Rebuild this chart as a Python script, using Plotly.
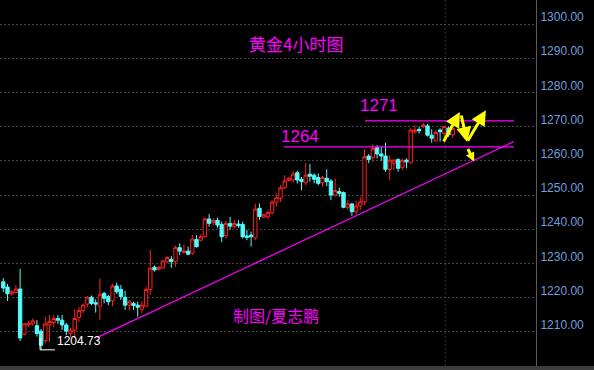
import plotly.graph_objects as go

# ---- candle data (gold, 4-hour bars) ----
opens = [1224.6,1223.1,1221.1,1221.5,1222.5,1209.3,1212.0,1212.3,1211.8,1210.2,
         1207.4,1212.0,1212.7,1213.9,1213.4,1212.0,1209.5,1210.5,1214.2,1216.2,
         1218.1,1220.1,1218.5,1217.5,1221.2,1220.3,1219.1,1223.4,1222.4,1220.1,
         1217.8,1218.3,1217.8,1216.6,1217.5,1222.4,1228.9,1228.3,1228.7,1230.5,
         1231.2,1230.5,1234.6,1233.2,1233.6,1233.0,1237.0,1236.8,1237.8,1243.0,
         1242.0,1242.6,1241.4,1238.1,1241.7,1240.7,1241.5,1241.4,1238.0,1238.3,
         1237.5,1246.1,1243.5,1243.6,1244.9,1247.9,1249.0,1252.2,1254.2,1254.4,
         1256.5,1254.6,1253.6,1256.1,1255.8,1255.1,1253.6,1254.9,1254.1,1250.0,
         1251.0,1250.7,1246.4,1247.4,1245.1,1246.8,1248.0,1261.4,1261.0,1263.9,
         1262.0,1261.4,1257.5,1259.3,1260.4,1258.1,1260.2,1259.4,1268.5,1269.2,
         1270.0,1270.2,1267.5,1265.8,1269.0,1268.0,1269.5,1267.6]
highs = [1225.7,1224.0,1222.2,1223.7,1228.4,1212.5,1213.2,1213.9,1213.4,1210.8,
         1214.4,1214.9,1214.9,1214.9,1214.9,1212.6,1211.2,1216.6,1217.3,1218.3,
         1220.5,1220.6,1219.5,1225.6,1221.7,1220.8,1224.0,1224.4,1223.7,1222.0,
         1219.3,1218.8,1218.8,1218.9,1223.2,1234.0,1229.4,1229.2,1231.0,1232.2,
         1232.2,1235.2,1235.9,1235.6,1234.9,1238.3,1238.3,1238.5,1243.4,1244.4,
         1243.2,1243.4,1242.2,1242.4,1243.6,1242.7,1242.7,1242.2,1239.8,1239.3,
         1247.5,1247.5,1244.6,1245.6,1248.5,1250.5,1252.9,1255.8,1255.3,1257.1,
         1257.1,1255.3,1259.3,1259.1,1256.3,1256.3,1255.6,1257.5,1254.6,1254.9,
         1252.2,1251.0,1248.5,1247.7,1248.3,1249.3,1263.4,1262.0,1264.9,1264.6,
         1264.1,1265.3,1261.7,1260.4,1260.7,1260.7,1260.7,1269.5,1270.5,1270.0,
         1271.1,1270.8,1269.2,1269.0,1269.5,1270.2,1270.0,1270.0]
lows = [1221.6,1219.0,1220.6,1221.2,1207.3,1208.9,1211.5,1211.8,1208.6,1204.73,
        1206.6,1207.0,1211.3,1212.3,1210.5,1209.0,1208.4,1208.1,1212.9,1215.4,
        1217.2,1217.8,1215.6,1213.4,1218.3,1217.8,1217.5,1221.0,1219.3,1216.4,
        1216.2,1216.4,1214.4,1215.4,1217.2,1220.8,1227.6,1227.9,1228.4,1230.0,
        1228.7,1229.0,1232.4,1232.9,1232.4,1232.4,1234.6,1236.4,1237.5,1240.7,
        1241.2,1240.4,1236.2,1237.3,1239.8,1240.2,1240.4,1237.3,1236.8,1234.9,
        1236.8,1242.7,1243.2,1243.0,1244.2,1246.6,1248.0,1251.8,1253.9,1253.6,
        1253.4,1251.4,1252.9,1253.9,1253.4,1252.9,1252.4,1252.6,1248.5,1249.5,
        1249.5,1246.1,1245.8,1243.9,1244.4,1245.6,1247.1,1259.3,1259.7,1260.7,
        1260.0,1256.8,1254.4,1257.3,1256.8,1257.3,1257.8,1259.3,1267.8,1268.0,
        1269.5,1267.1,1265.3,1265.6,1265.6,1265.1,1267.0,1266.7]
closes = [1222.8,1221.1,1221.7,1222.5,1208.2,1212.3,1212.5,1213.2,1209.5,1206.1,
          1212.3,1213.0,1213.9,1213.4,1212.0,1210.2,1210.5,1213.9,1216.2,1217.8,
          1220.1,1218.3,1218.1,1221.0,1219.8,1218.8,1223.4,1221.7,1220.3,1217.8,
          1218.8,1217.7,1217.2,1217.8,1222.4,1228.6,1228.1,1228.8,1230.7,1231.7,
          1230.5,1234.6,1233.6,1233.6,1232.7,1237.1,1234.9,1237.8,1243.0,1241.7,
          1242.6,1241.2,1237.8,1241.7,1240.9,1241.7,1241.0,1237.8,1237.6,1237.8,
          1245.9,1243.7,1244.2,1244.9,1247.9,1249.2,1252.1,1254.1,1254.9,1256.1,
          1254.4,1253.9,1255.8,1255.5,1254.6,1253.4,1255.1,1253.9,1250.0,1251.3,
          1250.5,1246.4,1247.4,1245.1,1246.8,1248.0,1261.2,1260.4,1263.6,1262.0,
          1261.4,1257.5,1260.2,1260.2,1257.8,1260.0,1259.7,1269.0,1269.0,1268.8,
          1270.5,1267.5,1266.6,1268.3,1268.5,1270.0,1267.6,1269.5]
bar_index = list(range(len(opens)))

y_ticks = [1210, 1220, 1230, 1240, 1250, 1260, 1270, 1280, 1290, 1300]
y_tick_text = [f"{v:.2f}" for v in y_ticks]

# ---- drawn levels / annotations ----
resistance_1271 = 1271.65
resistance_1264 = 1264.1
low_value = 1204.73
trend_start = (22.3, 1208.3)
trend_end = (121.5, 1265.6)

MAG = "#ff00ff"
YEL = "#ffff00"

fig = go.Figure()
fig.add_trace(go.Candlestick(
    x=bar_index, open=opens, high=highs, low=lows, close=closes,
    increasing=dict(line=dict(color="#ff2020", width=1), fillcolor="#000000"),
    decreasing=dict(line=dict(color="#54fcfc", width=1), fillcolor="#54fcfc"),
    whiskerwidth=0, hoverinfo="skip", showlegend=False,
))

shapes = [
    dict(type="line", xref="x", yref="y", x0=86.1, x1=121.6,
         y0=resistance_1271, y1=resistance_1271, line=dict(color=MAG, width=1.2)),
    dict(type="line", xref="x", yref="y", x0=66.8, x1=121.6,
         y0=resistance_1264, y1=resistance_1264, line=dict(color=MAG, width=1.2)),
    dict(type="line", xref="x", yref="y", x0=trend_start[0], y0=trend_start[1],
         x1=trend_end[0], y1=trend_end[1], line=dict(color=MAG, width=1.2)),
    dict(type="line", xref="x", yref="y", x0=8.75, x1=8.75, y0=1208.2, y1=low_value,
         line=dict(color="#ffffff", width=1)),
    dict(type="line", xref="x", yref="y", x0=8.75, x1=12.3, y0=low_value, y1=low_value,
         line=dict(color="#ffffff", width=1)),
    dict(type="line", xref="x", yref="paper", x0=105.2, x1=105.2, y0=0, y1=1,
         line=dict(color="#333333", width=1, dash="2px,2px"), layer="below"),
    dict(type="rect", xref="paper", yref="paper", x0=0, x1=1.11, y0=-0.012, y1=0,
         fillcolor="#3c3c3c", line=dict(width=0)),
]

annotations = [
    dict(text="黄金4小时图", xref="paper", yref="paper", x=0.552, y=0.88,
         xanchor="center", yanchor="middle", showarrow=False,
         font=dict(family="Noto Sans CJK SC", size=17, color=MAG)),
    dict(text="1271", xref="x", yref="y", x=89.45, y=1276.3, showarrow=False,
         font=dict(family="Liberation Sans", size=17, color=MAG)),
    dict(text="1264", xref="x", yref="y", x=70.6, y=1267.0, showarrow=False,
         font=dict(family="Liberation Sans", size=17, color=MAG)),
    dict(text="制图/夏志鹏", xref="x", yref="y", x=64.9, y=1214.9, showarrow=False,
         font=dict(family="Noto Sans CJK SC", size=16, color=MAG)),
    dict(text="1204.73", xref="x", yref="y", x=12.3, y=1207.3, xanchor="left",
         showarrow=False, font=dict(family="Liberation Sans", size=12, color="#ffffff")),
]

arrows = [
    (108.7, 1274.3, -17, 31, 1.0),
    (110.4, 1265.5, -6, -28, 1.0),
    (114.9, 1274.8, -19, 32, 1.0),
    (112.1, 1259.8, -7, -14, 0.6),
]
for hx, hy, ax, ay, sz in arrows:
    annotations.append(dict(x=hx, y=hy, xref="x", yref="y", ax=ax, ay=ay,
                            axref="pixel", ayref="pixel", text="", showarrow=True,
                            arrowhead=2, arrowsize=sz, arrowwidth=3, arrowcolor=YEL))

fig.update_layout(
    width=594, height=370,
    margin=dict(l=0, r=58, t=0, b=4),
    paper_bgcolor="#000000", plot_bgcolor="#000000",
    boxgap=0.2, boxgroupgap=0.0,
    shapes=shapes, annotations=annotations,
    xaxis=dict(range=[-0.786, 126.83], showgrid=False, zeroline=False,
               showticklabels=False, ticks="", rangeslider=dict(visible=False),
               fixedrange=True),
    yaxis=dict(range=[1200.0, 1307.02], side="right", tickvals=y_ticks,
               ticktext=y_tick_text, showgrid=True, gridcolor="#454545",
               griddash="2px,2px", gridwidth=1, zeroline=False,
               showline=True, linecolor="#5a5a5a", linewidth=1, ticks="",
               ticklabelshift=-7, ticklabelstandoff=1, fixedrange=True,
               tickfont=dict(family="Liberation Sans", size=12, color="#6f9fdc")),
)

fig.write_html("out.html", config={"displayModeBar": False},
               post_script="document.body.style.margin='0';document.body.style.background='#000';")
